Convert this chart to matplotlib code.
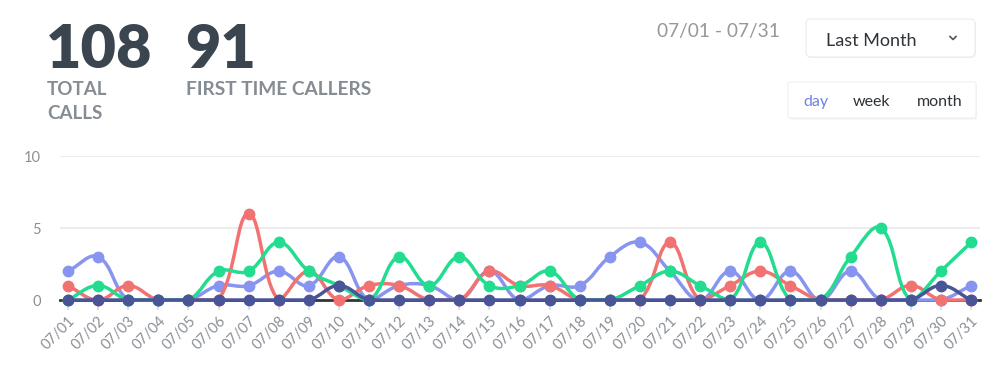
import matplotlib
matplotlib.use("Agg")
import matplotlib.pyplot as plt
from matplotlib.path import Path
from matplotlib.patches import PathPatch, FancyBboxPatch
from matplotlib.lines import Line2D
import numpy as np

# data
dates = ["07/%02d" % d for d in range(1, 32)]
blue = [2, 3, 0, 0, 0, 1, 1, 2, 1, 3, 0, 1, 1, 0, 2, 0, 1, 1, 3, 4, 2, 0, 2, 0, 2, 0, 2, 0, 0, 0, 1]
red = [1, 0, 1, 0, 0, 0, 6, 0, 2, 0, 1, 1, 0, 0, 2, 1, 1, 0, 0, 0, 4, 0, 1, 2, 1, 0, 0, 0, 1, 0, 0]
green = [0, 1, 0, 0, 0, 2, 2, 4, 2, 1, 0, 3, 1, 3, 1, 1, 2, 0, 0, 1, 2, 1, 0, 4, 0, 0, 3, 5, 0, 2, 4]
navy = [0, 0, 0, 0, 0, 0, 0, 0, 0, 1, 0, 0, 0, 0, 0, 0, 0, 0, 0, 0, 0, 0, 0, 0, 0, 0, 0, 0, 0, 1, 0]
yticks = [0, 5, 10]

total_calls = "108"
first_time = "91"
date_range = "07/01 - 07/31"

# draw order bottom -> top
series = [(blue, "#8795f0"), (red, "#f27272"), (green, "#22dc90"), (navy, "#4a5597")]

W, H = 999, 365
fig = plt.figure(figsize=(W / 100, H / 100), dpi=100)
fig.patch.set_facecolor("white")

ax = fig.add_axes([60 / W, 1 - 300 / H, 920 / W, 144 / H])
ax.set_xlim(-8 / 30.1, 30 + 9 / 30.1)
ax.set_ylim(0, 10)
SX, SY = 30.1, 14.4  # px per unit


def spline(xs, ys, t=0.4):
    # chart.js style bezier with tension
    px = np.asarray(xs, float) * SX
    py = np.asarray(ys, float) * SY
    n = len(px)
    cp_prev, cp_next = [], []
    for i in range(n):
        a = max(i - 1, 0)
        b = min(i + 1, n - 1)
        d01 = np.hypot(px[i] - px[a], py[i] - py[a])
        d12 = np.hypot(px[b] - px[i], py[b] - py[i])
        s = d01 + d12
        s01 = d01 / s if s else 0
        s12 = d12 / s if s else 0
        dx, dy = px[b] - px[a], py[b] - py[a]
        p = (px[i] - t * s01 * dx, np.clip(py[i] - t * s01 * dy, 0, 10 * SY))
        q = (px[i] + t * s12 * dx, np.clip(py[i] + t * s12 * dy, 0, 10 * SY))
        cp_prev.append(p)
        cp_next.append(q)
    verts = [(px[0], py[0])]
    codes = [Path.MOVETO]
    for i in range(n - 1):
        verts += [cp_next[i], cp_prev[i + 1], (px[i + 1], py[i + 1])]
        codes += [Path.CURVE4] * 3
    verts = [(vx / SX, vy / SY) for vx, vy in verts]
    return Path(verts, codes)


for yv in yticks[1:]:
    ax.axhline(yv, color="#e9e9e9", lw=1.2, zorder=0)
ax.axhline(0, color="#2f3440", lw=2, zorder=1, clip_on=False)

xs = np.arange(len(dates))
for k, (vals, col) in enumerate(series):
    ax.add_patch(PathPatch(spline(xs, vals), facecolor="none", edgecolor=col,
                           lw=2.5, zorder=2 + k, clip_on=False))
    ax.plot(xs, vals, "o", color=col, ms=7.5, mec=col, zorder=2 + k, clip_on=False)

for s in ax.spines.values():
    s.set_visible(False)
ax.set_xticks(xs)
ax.set_xticklabels(dates, rotation=45, ha="right", va="top", rotation_mode="anchor",
                   fontsize=10.5, color="#8a8f96", family="Lato")
ax.tick_params(axis="x", length=7, width=1.2, color="#d3daec", pad=3)
ax.set_yticks(yticks)
ax.set_yticklabels([str(v) for v in yticks], fontsize=10.5, color="#8a8f96", family="Lato")
ax.tick_params(axis="y", length=0, pad=14)


def fy(py):
    return 1 - py / H


# header stats
fig.text(46 / W, fy(68), total_calls, fontsize=44, fontweight="heavy", color="#3a4550",
         family="Lato", va="baseline")
fig.text(185 / W, fy(68), first_time, fontsize=44, fontweight="heavy", color="#3a4550",
         family="Lato", va="baseline")
fig.text(47 / W, fy(95), "TOTAL", fontsize=13.5, fontweight="bold", color="#858c93",
         family="Lato", va="baseline")
fig.text(47 / W, fy(119), "CALLS", fontsize=13.5, fontweight="bold", color="#858c93",
         family="Lato", va="baseline")
fig.text(186 / W, fy(95), "FIRST TIME CALLERS", fontsize=13.8, fontweight="bold",
         color="#858c93", family="Lato", va="baseline")

fig.text(780 / W, fy(37), date_range, fontsize=13.8, color="#979797",
         family="Lato", ha="right", va="baseline")

# dropdown box
T = fig.dpi_scale_trans
fig.patches.append(FancyBboxPatch((8.07, (H - 58) / 100), 1.69, 0.38,
                                  boxstyle="round,pad=0,rounding_size=0.05",
                                  fc="#f0f0f0", ec="none", transform=T, zorder=0))
fig.patches.append(FancyBboxPatch((8.06, (H - 57) / 100), 1.69, 0.38,
                                  boxstyle="round,pad=0,rounding_size=0.05",
                                  fc="white", ec="#ececec", lw=0.8, transform=T, zorder=1))
fig.text(826 / W, fy(46), "Last Month", fontsize=13, color="#2e3338", family="Lato",
         va="baseline")
fig.lines.append(Line2D([950 / W, 953 / W, 956 / W], [fy(36.5), fy(39.5), fy(36.5)],
                        color="#555", lw=1.2, transform=fig.transFigure))

# period buttons box
fig.patches.append(FancyBboxPatch((7.89, (H - 119.5) / 100), 1.88, 0.37,
                                  boxstyle="round,pad=0,rounding_size=0.02",
                                  fc="#f3f3f3", ec="none", transform=T, zorder=0))
fig.patches.append(FancyBboxPatch((7.88, (H - 118) / 100), 1.88, 0.36,
                                  boxstyle="round,pad=0,rounding_size=0.02",
                                  fc="white", ec="#f0f0f0", lw=0.8, transform=T, zorder=1))
fig.text(803 / W, fy(106), "day", fontsize=11.5, color="#6e82e6", family="Lato", va="baseline")
fig.text(853 / W, fy(106), "week", fontsize=11.5, color="#2e3338", family="Lato", va="baseline")
fig.text(917 / W, fy(106), "month", fontsize=11.5, color="#2e3338", family="Lato", va="baseline")

fig.savefig("out.png", dpi=100, facecolor="white")
